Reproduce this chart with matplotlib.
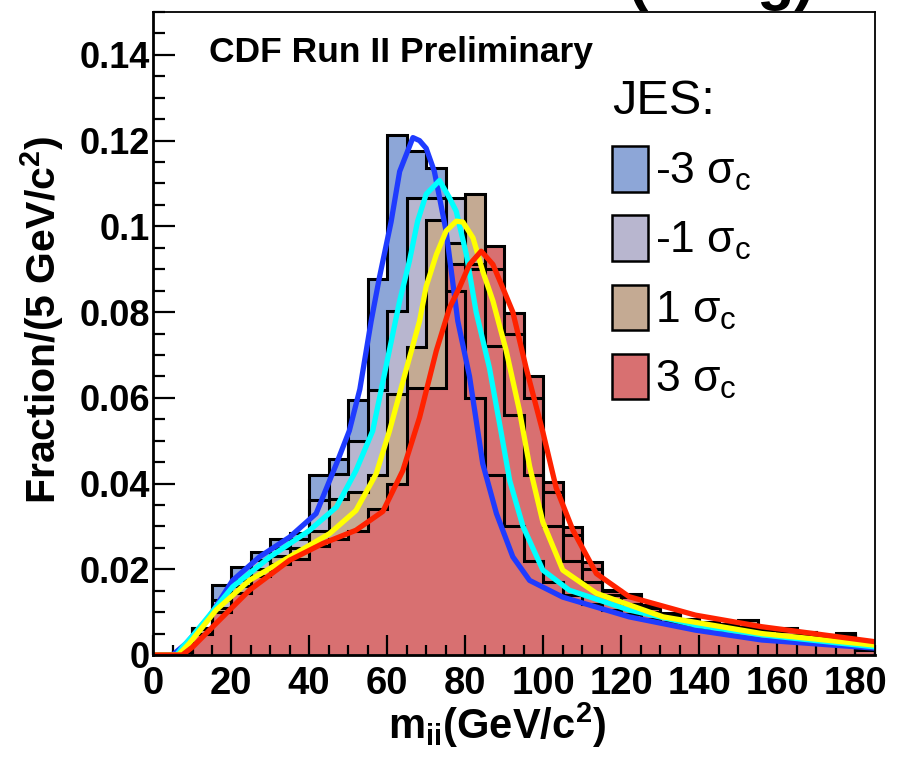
import numpy as np
import matplotlib
matplotlib.use("Agg")
import matplotlib.pyplot as plt
from matplotlib.patches import Patch

plt.rcParams['font.family'] = ['Liberation Sans', 'DejaVu Sans']
plt.rcParams['mathtext.fontset'] = 'custom'
plt.rcParams['mathtext.rm'] = 'Liberation Sans'
plt.rcParams['mathtext.it'] = 'Liberation Sans'
plt.rcParams['mathtext.bf'] = 'Liberation Sans:bold'
plt.rcParams['mathtext.default'] = 'regular'

# bin edges of the mjj histograms, 5 GeV/c^2 wide
edges = np.arange(0, 190, 5)

# histogram contents (fraction per bin) for each JES shift
hist_m3 = [0, 0.0008, 0.0062, 0.0163, 0.0205, 0.0240, 0.0271, 0.0284, 0.0419, 0.0457,
           0.0595, 0.0878, 0.1214, 0.1175, 0.1135, 0.0850, 0.0600, 0.0420, 0.0300, 0.0220,
           0.0170, 0.0140, 0.0120, 0.0105, 0.0095, 0.0085, 0.0078, 0.0070, 0.0064, 0.0058,
           0.0055, 0.0050, 0.0047, 0.0044, 0.0040, 0.0048, 0.0012]
hist_m1 = [0, 0.0008, 0.0060, 0.0128, 0.0174, 0.0221, 0.0250, 0.0270, 0.0361, 0.0423,
           0.0500, 0.0619, 0.0802, 0.1066, 0.1066, 0.1066, 0.0900, 0.0720, 0.0560, 0.0420,
           0.0300, 0.0220, 0.0170, 0.0140, 0.0120, 0.0100, 0.0088, 0.0078, 0.0072, 0.0066,
           0.0060, 0.0058, 0.0055, 0.0050, 0.0046, 0.0052, 0.0013]
hist_p1 = [0, 0.0008, 0.0062, 0.0110, 0.0160, 0.0200, 0.0230, 0.0250, 0.0290, 0.0365,
           0.0380, 0.0420, 0.0610, 0.0718, 0.1014, 0.0960, 0.1075, 0.0900, 0.0750, 0.0600,
           0.0380, 0.0280, 0.0200, 0.0150, 0.0135, 0.0110, 0.0092, 0.0082, 0.0076, 0.0068,
           0.0081, 0.0062, 0.0060, 0.0053, 0.0047, 0.0045, 0.0014]
hist_p3 = [0, 0.0008, 0.0050, 0.0100, 0.0145, 0.0185, 0.0213, 0.0225, 0.0255, 0.0270,
           0.0290, 0.0340, 0.0400, 0.0624, 0.0624, 0.0912, 0.0912, 0.0954, 0.0798, 0.0651,
           0.0403, 0.0298, 0.0217, 0.0151, 0.0142, 0.0116, 0.0098, 0.0085, 0.0078, 0.0072,
           0.0066, 0.0064, 0.0062, 0.0054, 0.0047, 0.0045, 0.0016]

# template fit curves
blue_x = [0, 5, 8.5, 14.4, 20.4, 27.3, 35, 41.8, 47, 50.3, 53, 55.9, 58, 61, 63.2, 66.6,
          68.3, 70, 72.1, 75.1, 78.1, 81.1, 84.5, 88, 92.2, 96.5, 105, 122, 139, 156, 185]
blue_y = [0, 0, 0.0027, 0.0089, 0.0174, 0.0229, 0.0275, 0.0330, 0.0446, 0.0523, 0.0620,
          0.0779, 0.0880, 0.1010, 0.1128, 0.1207, 0.1200, 0.1182, 0.1128, 0.0989, 0.0779,
          0.0650, 0.0446, 0.0330, 0.0229, 0.0174, 0.0135, 0.0089, 0.0058, 0.0035, 0.0016]
cyan_x = [0, 6, 7.6, 10, 20.4, 30, 40, 47, 52, 56.3, 60, 63.2, 65.7, 67.8, 70, 73.4, 76,
          77.7, 80.3, 82.8, 86.2, 88.8, 91.4, 94.8, 99.9, 106.7, 122, 139, 156, 185]
cyan_y = [0, 0, 0.0019, 0.0043, 0.0159, 0.0229, 0.0290, 0.0345, 0.0430, 0.0523, 0.0686,
          0.0826, 0.0919, 0.1012, 0.1075, 0.1107, 0.1066, 0.1035, 0.0934, 0.0800, 0.0670,
          0.0540, 0.0407, 0.0300, 0.0198, 0.0151, 0.0105, 0.0070, 0.0047, 0.0019]
yellow_x = [0, 6.5, 9.3, 16.2, 24.7, 35, 45.2, 52, 57.2, 60.6, 65, 68.3, 70, 72.6, 75.1,
            77.7, 79.4, 82, 84.5, 87.1, 90.5, 93.9, 96.5, 99.9, 105, 113.6, 130.7, 156, 185]
yellow_y = [0, 0, 0.0027, 0.0105, 0.0174, 0.0229, 0.0283, 0.0337, 0.0423, 0.0523, 0.0670,
            0.0779, 0.0860, 0.0934, 0.0989, 0.1012, 0.1010, 0.0973, 0.0895, 0.0826, 0.0710,
            0.0570, 0.0440, 0.0310, 0.0198, 0.0144, 0.0089, 0.0050, 0.0023]
red_x = [0, 7.5, 10.2, 16.2, 24.7, 35, 43.5, 52, 58.9, 64, 68.3, 72.6, 76, 78.5, 81.1,
         84.1, 87.1, 89.6, 92.2, 95.6, 99.9, 103.3, 107.6, 113.6, 122, 139, 156, 185]
red_y = [0, 0, 0.0019, 0.0074, 0.0151, 0.0221, 0.0260, 0.0291, 0.0335, 0.0430, 0.0554,
         0.0710, 0.0810, 0.0857, 0.0911, 0.0942, 0.0911, 0.0857, 0.0800, 0.0670, 0.0520,
         0.0390, 0.0291, 0.0190, 0.0136, 0.0093, 0.0066, 0.0031]

labels = [r'-3 $\sigma_{c}$', r'-1 $\sigma_{c}$', r'1 $\sigma_{c}$', r'3 $\sigma_{c}$']
fill_colors = ['#8DA6D7', '#B8B6CF', '#C4AA93', '#D87071']
line_colors = ['#1F3BFF', '#00FFFF', '#FFFF00', '#FF2200']

fig = plt.figure(figsize=(9.05, 7.57), dpi=100)
ax = fig.add_axes([153 / 905, 1 - 655 / 757, 722 / 905, 643 / 757])

hists = [hist_m3, hist_m1, hist_p1, hist_p3]
for vals, fc in zip(hists, fill_colors):
    ax.stairs(vals, edges, fill=True, color=fc, zorder=1)
    ax.stairs(vals, edges, color='black', lw=2.2, baseline=0, zorder=1.1)

curves = [(blue_x, blue_y), (cyan_x, cyan_y), (yellow_x, yellow_y), (red_x, red_y)]
for (cx, cy), lc in zip(curves, line_colors):
    ax.plot(cx, cy, color=lc, lw=3.8, solid_joinstyle='round', zorder=2)

ax.set_xlim(0, 185)
ax.set_ylim(0, 0.15)
ax.set_xticks(np.arange(0, 181, 20))
ax.set_xticks(np.arange(0, 186, 5), minor=True)
ax.set_yticks(np.arange(0, 0.141, 0.02))
ax.set_yticks(np.arange(0, 0.1501, 0.005), minor=True)
ax.yaxis.set_major_formatter(lambda v, p: '0' if abs(v) < 1e-9 else '%g' % round(v, 3))

ax.tick_params(axis='both', which='both', direction='in', top=False, right=False, width=1.6)
ax.tick_params(axis='x', which='major', length=14.5, labelsize=27.5, pad=8)
ax.tick_params(axis='x', which='minor', length=7.5)
ax.tick_params(axis='y', which='major', length=16, labelsize=26, pad=2)
ax.tick_params(axis='y', which='minor', length=8.5)
for lab in ax.get_xticklabels() + ax.get_yticklabels():
    lab.set_fontweight('bold')

for side in ['left', 'bottom']:
    ax.spines[side].set_linewidth(2)
for side in ['top', 'right']:
    ax.spines[side].set_linewidth(1.3)

ax.set_xlabel(r'm$_{ii}$(GeV/c$^{2}$)', fontsize=30, fontweight='bold')
ax.xaxis.set_label_coords((497 - 153) / 722, (655 - 701) / 643)
ax.set_ylabel(r'Fraction/(5 GeV/c$^{2}$)', fontsize=29.5, fontweight='bold')
ax.yaxis.set_label_coords((66 - 153) / 722, (655 - 320) / 643)

ax.text(0.078, 0.962, 'CDF Run II Preliminary', transform=ax.transAxes,
        fontsize=25.5, fontweight='bold', va='top', ha='left')

handles = [Patch(facecolor=fc, edgecolor='black', lw=1.8) for fc in fill_colors]
leg = ax.legend(handles, labels, title='JES:', loc='upper left',
                bbox_to_anchor=(612 / 905, 1 - 79 / 757), bbox_transform=fig.transFigure,
                frameon=False, fontsize=32, title_fontsize=35, handlelength=0.82,
                handleheight=1.2, handletextpad=0.15, labelspacing=0.5, borderpad=0,
                borderaxespad=0, alignment='left')

# big title of the page, cut off at the top edge
fig.text(815 / 905, 1 + 2 / 757, '(1-tag)', fontsize=44, fontweight='bold',
         ha='right', va='baseline')

fig.savefig('out.png', dpi=100)
